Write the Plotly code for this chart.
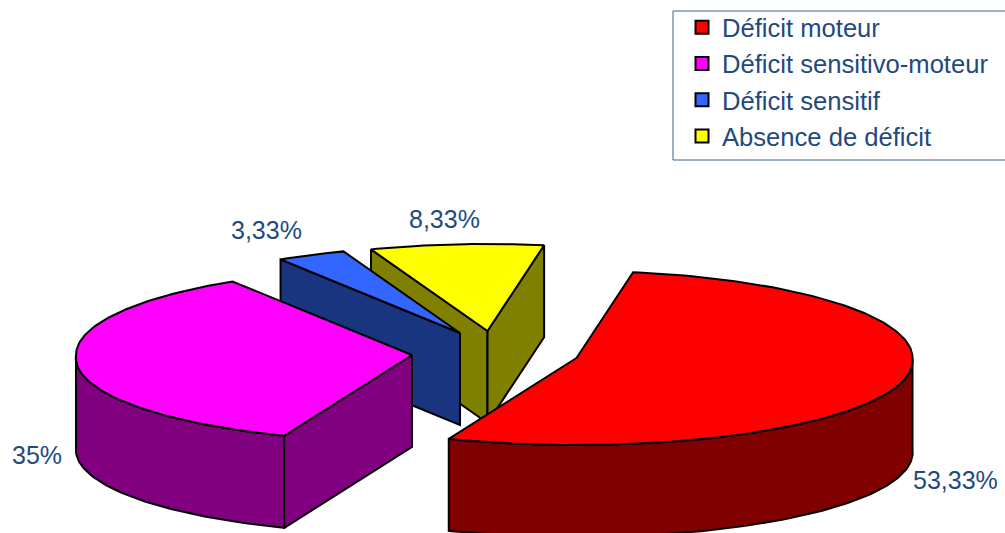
import numpy as np
import plotly.graph_objects as go

categories = ["Déficit moteur", "Déficit sensitivo-moteur", "Déficit sensitif", "Absence de déficit"]
values = [53.33, 35, 3.33, 8.33]

top_colors = ["#FF0000", "#FF00FF", "#3366FF", "#FFFF00"]
side_colors = ["#800000", "#800080", "#1A3580", "#808000"]
text_color = "#1F4A80"

# Layout of the projected pie, in pixel-like axis units
W, H = 1005, 533
RX, RY, DEPTH = 336, 87, 92
NEAR_WIDEN = 0.03
START = 9.7
centers = [(576.5, 358), (412, 355), (460, 333), (487.5, 331)]
label_pos = [(955, 480), (37, 455), (266, 230), (444, 219)]

total = sum(values)
angles = [START]
for v in values:
    angles.append(angles[-1] + 360 * v / total)


def rim(c, a0, a1, dz=0, step=1.0):
    n = max(2, int(abs(a1 - a0) / step) + 1)
    t = np.radians(np.linspace(a0, a1, n))
    widen = 1 + NEAR_WIDEN * np.maximum(0, -np.cos(t))
    return c[0] + RX * np.sin(t) * widen, c[1] - RY * np.cos(t) + dz


def poly(fig, x, y, color):
    fig.add_trace(go.Scatter(
        x=list(x) + [x[0]], y=list(y) + [y[0]], mode="lines", fill="toself",
        fillcolor=color, line=dict(color="black", width=2, shape="linear"),
        hoverinfo="skip", showlegend=False))


def radial_face(fig, c, a, color):
    ex, ey = rim(c, a, a + 0.001)
    px_, py_ = ex[0], ey[0]
    poly(fig, [c[0], px_, px_, c[0]], [c[1], py_, py_ + DEPTH, c[1] + DEPTH], color)


def outer_side(fig, c, a0, a1, color):
    x0, y0 = rim(c, a0, a1)
    x1, y1 = rim(c, a1, a0, DEPTH)
    poly(fig, np.r_[x0, x1], np.r_[y0, y1], color)


def top(fig, c, a0, a1, color):
    x, y = rim(c, a0, a1)
    poly(fig, np.r_[c[0], x], np.r_[c[1], y], color)


fig = go.Figure()

# painter's order: back slices first
# yellow
i = 3
radial_face(fig, centers[i], angles[3], side_colors[i])
radial_face(fig, centers[i], angles[4], side_colors[i])
top(fig, centers[i], angles[3], angles[4], top_colors[i])
# blue
i = 2
radial_face(fig, centers[i], angles[2], side_colors[i])
top(fig, centers[i], angles[2], angles[3], top_colors[i])
# magenta
i = 1
outer_side(fig, centers[i], angles[1], 270, side_colors[i])
radial_face(fig, centers[i], angles[1], side_colors[i])
top(fig, centers[i], angles[1], angles[2], top_colors[i])
# red
i = 0
outer_side(fig, centers[i], 90, angles[1], side_colors[i])
top(fig, centers[i], angles[0], angles[1], top_colors[i])

for name, color in zip(categories, top_colors):
    fig.add_trace(go.Scatter(
        x=[None], y=[None], mode="markers", name=name, legendgroup=name,
        marker=dict(symbol="square", size=13, color=color, line=dict(color="black", width=2))))

for v, (lx, ly) in zip(values, label_pos):
    fig.add_annotation(x=lx, y=ly, text=f"{v:g}%".replace(".", ","), showarrow=False,
                       font=dict(family="Liberation Sans", size=25, color=text_color))

# legend frame runs off the right edge of the page, as in the reference
fig.add_shape(type="rect", xref="x", yref="y", x0=673, x1=W + 10, y0=11, y1=160,
              line=dict(color="#3F5F8F", width=1), fillcolor="white", layer="below")

fig.update_layout(
    width=W, height=H, margin=dict(l=0, r=0, t=0, b=0),
    paper_bgcolor="white", plot_bgcolor="white",
    xaxis=dict(range=[0, W], visible=False, fixedrange=True),
    yaxis=dict(range=[H, 0], visible=False, fixedrange=True),
    font=dict(family="Liberation Sans", color=text_color),
    legend=dict(x=673 / W, y=1 - 4 / H, xanchor="left", yanchor="top",
                bgcolor="rgba(0,0,0,0)", borderwidth=0,
                font=dict(size=25.6, color=text_color, family="Liberation Sans"),
                itemwidth=30, indentation=9, tracegroupgap=0,
                itemclick=False, itemdoubleclick=False),
)

fig.write_html("out.html", config={"displayModeBar": False},
               post_script="document.body.style.margin='0';")
